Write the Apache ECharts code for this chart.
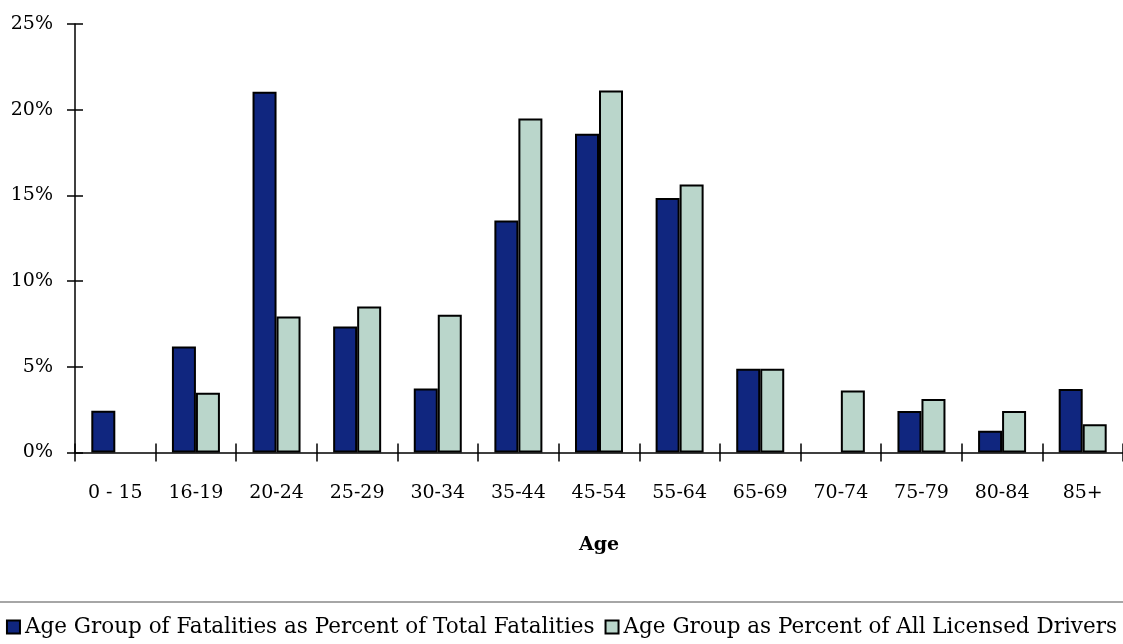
<!DOCTYPE html>
<html>
<head>
<meta charset="utf-8">
<script src="https://cdn.jsdelivr.net/npm/echarts@6/dist/echarts.min.js"></script>
<style>
  html, body { margin: 0; padding: 0; background: #fff; }
  #chart { width: 1123px; height: 644px; }
</style>
</head>
<body>
<div id="chart"></div>
<script>
const ageGroups = ['0 - 15', '16-19', '20-24', '25-29', '30-34', '35-44', '45-54',
  '55-64', '65-69', '70-74', '75-79', '80-84', '85+']
// null = no bar drawn for that group
const fatalityPct = [2.44, 6.18, 21.05, 7.35, 3.73, 13.54, 18.59, 14.85, 4.88, null, 2.42, 1.27, 3.71]
const driverPct = [null, 3.49, 7.93, 8.52, 8.03, 19.48, 21.12, 15.63, 4.88, 3.61, 3.12, 2.42, 1.65]
const seriesNames = [
  'Age Group of Fatalities as Percent of Total Fatalities',
  'Age Group as Percent of All Licensed Drivers',
]

const FONT = 'DejaVu Serif'
const chart = echarts.init(document.getElementById('chart'))

const tickCommon = { show: true, length: 9, lineStyle: { color: '#000', width: 1.5 } }

chart.setOption({
  animation: false,
  textStyle: { fontFamily: FONT, color: '#000' },
  grid: { left: 75, right: 0, top: 24, bottom: 191.5 },
  legend: {
    bottom: 1,
    left: 'center',
    icon: 'rect',
    itemWidth: 13,
    itemHeight: 13,
    itemGap: 10,
    textStyle: { fontFamily: FONT, fontSize: 21.5, color: '#000' },
    data: seriesNames,
  },
  graphic: [{
    type: 'line',
    shape: { x1: 0, y1: 602, x2: 1123, y2: 602 },
    style: { stroke: '#888', lineWidth: 1.5 },
  }],
  xAxis: [{
    type: 'category',
    data: ageGroups,
    name: 'Age',
    nameLocation: 'middle',
    nameGap: 83,
    nameTextStyle: { fontFamily: FONT, fontSize: 19, fontWeight: 'bold', color: '#000' },
    axisLine: { lineStyle: { color: '#000', width: 1.5 } },
    axisTick: tickCommon,
    axisLabel: { fontFamily: FONT, fontSize: 19, color: '#000', margin: 31 },
  }, {
    type: 'category',
    data: ageGroups,
    position: 'bottom',
    axisLine: { show: false },
    axisTick: Object.assign({ inside: true }, tickCommon),
    axisLabel: { show: false },
  }],
  yAxis: [{
    type: 'value',
    min: 0,
    max: 25,
    interval: 5,
    splitLine: { show: false },
    axisLine: { show: true, lineStyle: { color: '#000', width: 1.5 } },
    axisTick: Object.assign({}, tickCommon, { length: 8 }),
    axisLabel: { fontFamily: FONT, fontSize: 19, color: '#000', margin: 22, formatter: '{value}%' },
  }, {
    type: 'value',
    min: 0,
    max: 25,
    interval: 5,
    position: 'left',
    splitLine: { show: false },
    axisLine: { show: false },
    axisTick: Object.assign({ inside: true }, tickCommon, { length: 8 }),
    axisLabel: { show: false },
  }],
  series: [{
    name: seriesNames[0],
    type: 'bar',
    data: fatalityPct,
    barWidth: 24,
    barGap: '0%',
    itemStyle: { color: '#10267f', borderColor: '#000', borderWidth: 2 },
  }, {
    name: seriesNames[1],
    type: 'bar',
    data: driverPct,
    barWidth: 24,
    barGap: '0%',
    itemStyle: { color: '#bad6cb', borderColor: '#000', borderWidth: 2 },
  }],
})
</script>
</body>
</html>
